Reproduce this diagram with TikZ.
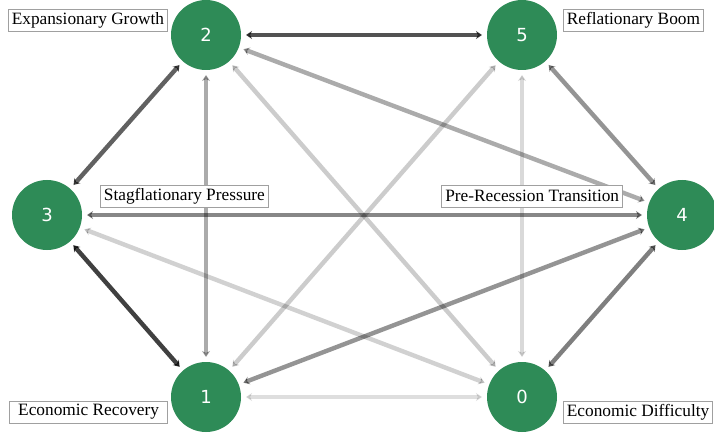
\documentclass[tikz,border=0pt]{standalone}
\usepackage{fontspec}
\setmainfont{Liberation Serif}
\newfontfamily\numfont{DejaVu Sans}
\usetikzlibrary{arrows.meta}
\usetikzlibrary{positioning}
\usetikzlibrary{backgrounds}
\definecolor{stategreen}{HTML}{2E8B57}
\definecolor{boxgray}{HTML}{A0A0A0}

\tikzset{
  state/.style={circle, fill=stategreen, minimum size=70pt, inner sep=0pt,
    outer sep=5pt, text=white, font=\numfont\fontsize{18}{20}\selectfont},
  regime/.style={draw=boxgray, line width=0.8pt, fill=white, inner xsep=3.5pt,
    inner ysep=2pt, minimum height=22pt, font=\fontsize{17.3}{18}\selectfont},
  trans/.style={{Stealth[length=6pt,width=8pt]}-{Stealth[length=6pt,width=8pt]},
    line width=4.4pt, draw=black, draw opacity=#1, fill opacity=#1},
}

\begin{document}
\begin{tikzpicture}[x=1pt,y=1pt]
			\useasboundingbox (0,0) rectangle (714,437);
			
			% Draw states
			\node[state] (n0) at (522,40) {0};
			\node[state] (n1) at (206,40) {1};
			\node[state] (n2) at (206,402) {2};
			\node[state] (n3) at (47,222) {3};
			\node[state] (n4) at (682,222) {4};
			\node[state] (n5) at (522,402) {5};
			
			% Transitions (behind the states)
			\begin{scope}[on background layer]
			\draw[trans=0.75] (n3) -- (n1);
			\draw[trans=0.68] (n2) -- (n5);
			\draw[trans=0.62] (n2) -- (n3);
			\draw[trans=0.5] (n0) -- (n4);
			\draw[trans=0.47] (n3) -- (n4);
			\draw[trans=0.42] (n5) -- (n4);
			\draw[trans=0.42] (n1) -- (n4);
			\draw[trans=0.33] (n2) -- (n1);
			\draw[trans=0.33] (n2) -- (n4);
			\draw[trans=0.2] (n2) -- (n0);
			\draw[trans=0.2] (n5) -- (n1);
			\draw[trans=0.18] (n3) -- (n0);
			\draw[trans=0.15] (n5) -- (n0);
			\draw[trans=0.13] (n1) -- (n0);
			\end{scope}
			
			% Labels
			\node[regime, anchor=east] (lab2) at (168,416.5) {Expansionary Growth};
			\node[regime, anchor=west] (lab5) at (563,416.5) {Reflationary Boom};
			\node[regime, anchor=west] (lab3) at (100,241) {Stagflationary Pressure};
			\node[regime, anchor=east] (lab4) at (623,241) {Pre-Recession Transition};
			\node[regime, anchor=east, minimum width=158pt] (lab1) at (168,25) {Economic Recovery};
			\node[regime, anchor=west] (lab0) at (563,25) {Economic Difficulty};
		\end{tikzpicture}
\end{document}
